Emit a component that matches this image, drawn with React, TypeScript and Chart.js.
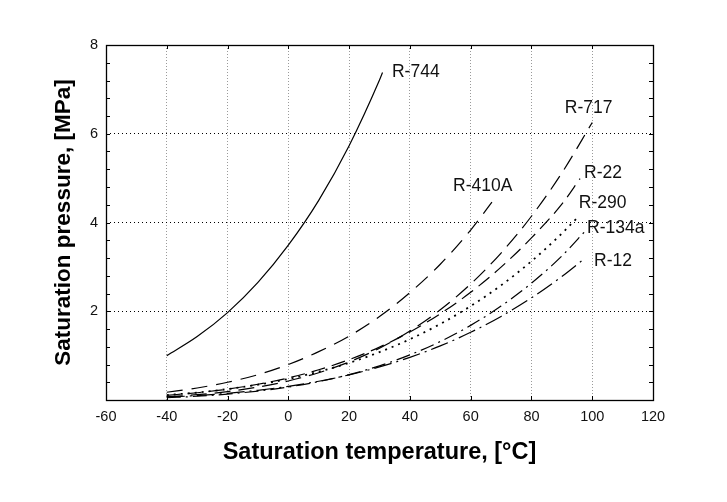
import React, { useEffect, useRef } from "react";
import { Chart, registerables } from "chart.js";
Chart.register(...registerables);

const FONT = "'Liberation Sans', Arial, sans-serif";

// Saturation temperature [°C] and pressure [MPa] for each refrigerant
const tR744 = [-40, -30, -20, -10, 0, 10, 20, 30, 31];
const pR744 = [1.0, 1.43, 1.97, 2.65, 3.49, 4.5, 5.73, 7.21, 7.38];

const tR410A = [-40, -30, -20, -10, 0, 10, 20, 30, 40, 50, 60, 67];
const pR410A = [0.175, 0.27, 0.4, 0.57, 0.8, 1.09, 1.44, 1.88, 2.42, 3.06, 3.83, 4.46];

const tR717 = [-40, -30, -20, -10, 0, 10, 20, 30, 40, 50, 60, 70, 80, 90, 100];
const pR717 = [0.072, 0.12, 0.19, 0.291, 0.429, 0.615, 0.858, 1.167, 1.555, 2.033, 2.614, 3.312, 4.141, 5.116, 6.254];

const tR22 = [-40, -30, -20, -10, 0, 10, 20, 30, 40, 50, 60, 70, 80, 90, 96];
const pR22 = [0.105, 0.164, 0.245, 0.355, 0.498, 0.681, 0.91, 1.192, 1.534, 1.943, 2.427, 2.994, 3.653, 4.414, 4.99];

const tR290 = [-40, -30, -20, -10, 0, 10, 20, 30, 40, 50, 60, 70, 80, 90, 95];
const pR290 = [0.111, 0.168, 0.245, 0.345, 0.474, 0.637, 0.836, 1.079, 1.369, 1.713, 2.116, 2.584, 3.127, 3.752, 4.1];

const tR134a = [-40, -30, -20, -10, 0, 10, 20, 30, 40, 50, 60, 70, 80, 90, 98];
const pR134a = [0.051, 0.084, 0.133, 0.201, 0.293, 0.415, 0.572, 0.77, 1.017, 1.318, 1.682, 2.117, 2.633, 3.244, 3.83];

const tR12 = [-40, -30, -20, -10, 0, 10, 20, 30, 40, 50, 60, 70, 80, 90, 97];
const pR12 = [0.064, 0.1, 0.151, 0.219, 0.309, 0.423, 0.567, 0.745, 0.961, 1.219, 1.525, 1.884, 2.301, 2.782, 3.16];

const seriesNames = ["R-744", "R-410A", "R-717", "R-22", "R-290", "R-134a", "R-12"];
const seriesT = [tR744, tR410A, tR717, tR22, tR290, tR134a, tR12];
const seriesP = [pR744, pR410A, pR717, pR22, pR290, pR134a, pR12];

const xTitle = "Saturation temperature, [°C]";
const yTitle = "Saturation pressure, [MPa]";

const dashes: number[][] = [[], [16, 9], [16, 8], [14, 7], [2, 5], [14, 5, 2, 5], [18, 5, 2, 5]];
const widths = [1.2, 1.2, 1.2, 1.2, 1.8, 1.2, 1.2];
// label anchors in data units (temperature, pressure)
const labelAnchors: [number, number][] = [
  [34.1, 7.39],
  [54.2, 4.82],
  [91.0, 6.58],
  [97.3, 5.11],
  [95.6, 4.44],
  [98.3, 3.87],
  [100.6, 3.13],
];

const frame = {
  id: "frame",
  beforeDatasetsDraw(chart: any) {
    const { ctx, chartArea: a, scales } = chart;
    const x = scales.x;
    const y = scales.y;
    ctx.save();
    ctx.strokeStyle = "#000";
    ctx.lineWidth = 1;
    ctx.setLineDash([]);
    ctx.beginPath();
    const tl = 4;
    for (let v = -40; v <= 100; v += 20) {
      const px = Math.round(x.getPixelForValue(v)) + 0.5;
      ctx.moveTo(px, a.top);
      ctx.lineTo(px, a.top + tl);
      ctx.moveTo(px, a.bottom);
      ctx.lineTo(px, a.bottom - tl);
    }
    for (let i = 1; i < 20; i++) {
      const py = Math.round(y.getPixelForValue(i * 0.4)) + 0.5;
      ctx.moveTo(a.left, py);
      ctx.lineTo(a.left + tl, py);
      ctx.moveTo(a.right, py);
      ctx.lineTo(a.right - tl, py);
    }
    ctx.stroke();
    ctx.lineWidth = 1.3;
    ctx.strokeRect(Math.round(a.left) + 0.5, Math.round(a.top) + 0.5, Math.round(a.right - a.left), Math.round(a.bottom - a.top));
    ctx.restore();
  },
  afterDatasetsDraw(chart: any) {
    const { ctx, scales } = chart;
    ctx.save();
    ctx.fillStyle = "#111";
    ctx.font = `17.5px ${FONT}`;
    ctx.textAlign = "left";
    ctx.textBaseline = "middle";
    seriesNames.forEach((n, i) => {
      const [t, p] = labelAnchors[i];
      ctx.fillText(n, scales.x.getPixelForValue(t), scales.y.getPixelForValue(p));
    });
    ctx.restore();
  },
};

export default function App() {
  const ref = useRef<HTMLCanvasElement>(null);
  useEffect(() => {
    if (!ref.current) return;
    const chart = new Chart(ref.current, {
      type: "line",
      data: {
        datasets: seriesNames.map((n, i) => ({
          label: n,
          data: seriesT[i].map((t, j) => ({ x: t, y: seriesP[i][j] })),
          borderColor: "#000",
          borderWidth: widths[i],
          borderDash: dashes[i],
          pointRadius: 0,
          fill: false,
          cubicInterpolationMode: "monotone" as const,
        })),
      },
      plugins: [frame],
      options: {
        animation: false,
        responsive: false,
        maintainAspectRatio: false,
        layout: { padding: { left: 0, right: 74, top: 45, bottom: 0 } },
        plugins: { legend: { display: false }, tooltip: { enabled: false } },
        scales: {
          x: {
            type: "linear",
            min: -60,
            max: 120,
            afterFit: (s: any) => {
              s.height = 102;
            },
            ticks: {
              stepSize: 20,
              padding: 8,
              color: "#111",
              font: { family: FONT, size: 14.5 },
              autoSkip: false,
              maxRotation: 0,
            },
            grid: {
              drawTicks: false,
              lineWidth: 1,
              color: (c: any) => {
                const v = c.tick ? c.tick.value : 0;
                return v > -60 && v < 120 ? "#9a9a9a" : "rgba(0,0,0,0)";
              },
            },
            border: { display: false, dash: [1, 2] },
            title: {
              display: true,
              text: xTitle,
              color: "#000",
              font: { family: FONT, size: 23.5, weight: "bold" },
              padding: { top: 0, bottom: 35 },
            },
          },
          y: {
            type: "linear",
            min: 0,
            max: 8,
            afterFit: (s: any) => {
              s.width = 106;
            },
            ticks: {
              stepSize: 0.4,
              padding: 8,
              color: "#111",
              font: { family: FONT, size: 14.5 },
              autoSkip: false,
              callback: (v: any) => {
                const r = Math.round(Number(v) * 10) / 10;
                return r > 0 && Math.abs(r % 2) < 1e-6 ? String(r) : "";
              },
            },
            grid: {
              drawTicks: false,
              lineWidth: 1,
              color: (c: any) => {
                const v = c.tick ? Math.round(c.tick.value * 10) / 10 : 0;
                return v > 0 && v < 8 && Math.abs(v % 2) < 1e-6 ? "#000" : "rgba(0,0,0,0)";
              },
            },
            border: { display: false, dash: [1, 3] },
            title: {
              display: true,
              text: yTitle,
              color: "#000",
              font: { family: FONT, size: 22.5, weight: "bold" },
              padding: { top: 50, bottom: 0 },
            },
          },
        },
      },
    });
    return () => chart.destroy();
  }, []);
  return (
    <div style={{ position: "fixed", left: 0, top: 0, width: 727, height: 502, background: "#fff" }}>
      <canvas ref={ref} width={727} height={502} style={{ width: 727, height: 502 }} />
    </div>
  );
}
